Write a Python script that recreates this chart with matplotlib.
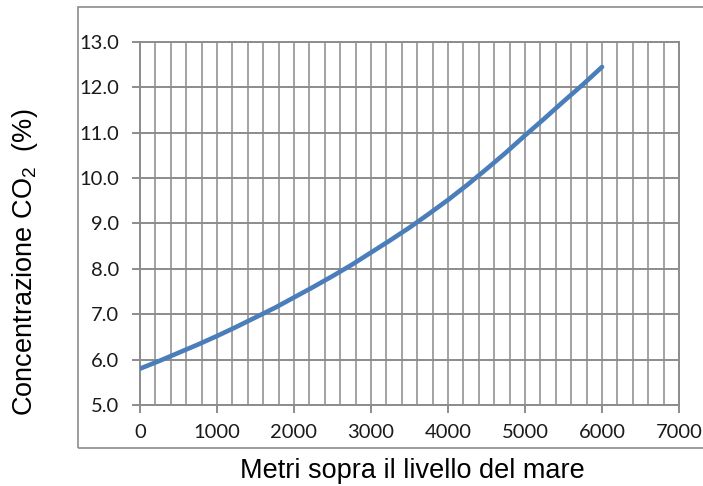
"""CO2 concentration versus altitude"""

import matplotlib
matplotlib.use('Agg')
import matplotlib.pyplot as plt
from matplotlib.patches import Rectangle
from matplotlib.ticker import MultipleLocator, FormatStrFormatter

# altitude above sea level (m) and CO2 concentration (%)
altitude = [0, 250, 500, 750, 1000, 1250, 1500, 1750, 2000, 2250, 2500, 2750, 3000,
            3250, 3500, 3750, 4000, 4250, 4500, 4750, 5000, 5250, 5500, 5750, 6000]
co2_pct = [5.80, 5.97, 6.15, 6.33, 6.52, 6.72, 6.93, 7.14, 7.37, 7.60, 7.84, 8.09, 8.36,
           8.63, 8.91, 9.21, 9.52, 9.85, 10.20, 10.56, 10.94, 11.31, 11.69, 12.06, 12.45]

x_label = 'Metri sopra il livello del mare'
y_label = r'Concentrazione CO$\mathregular{_2}$  (%)'

grid_color = '#a3a3a3'
axis_color = '#8c8c8c'
line_color = '#4a7ebb'

plt.rcParams['font.family'] = ['Liberation Sans', 'DejaVu Sans']

fig = plt.figure(figsize=(7.03, 4.86), dpi=100)
ax = fig.add_axes([0.1991, 0.1667, 0.7668, 0.7469])

# frame around the whole chart area, open on the right
fig.patches.append(Rectangle((0.111, 0.0782), 1.0, 0.9074, transform=fig.transFigure,
                             fill=False, edgecolor=axis_color, linewidth=1.2))

ax.plot(altitude, co2_pct, color=line_color, linewidth=3.3, solid_capstyle='round', zorder=3)

ax.set_xlim(0, 7000)
ax.set_ylim(5.0, 13.0)
ax.xaxis.set_major_locator(MultipleLocator(1000))
ax.xaxis.set_minor_locator(MultipleLocator(200))
ax.yaxis.set_major_locator(MultipleLocator(1.0))
ax.yaxis.set_major_formatter(FormatStrFormatter('%.1f'))

ax.grid(which='major', axis='y', color=axis_color, linewidth=1.4)
ax.grid(which='both', axis='x', color=grid_color, linewidth=1.4)
ax.set_axisbelow(True)

for spine in ax.spines.values():
    spine.set_color(axis_color)
    spine.set_linewidth(1.4)

ax.tick_params(axis='both', which='major', direction='out', length=6, width=1.4,
               color=axis_color, labelsize=14.5, labelcolor='#1a1a1a')
ax.tick_params(axis='y', which='major', pad=9)
ax.tick_params(axis='x', which='major', pad=8)
ax.tick_params(axis='x', which='minor', length=0)
for lbl in ax.get_xticklabels() + ax.get_yticklabels():
    lbl.set_fontfamily(['Lato', 'DejaVu Sans'])

fig.text(0.587, 0.030, x_label, ha='center', va='center', fontsize=19.5)
fig.text(0.035, 0.461, y_label, ha='center', va='center', rotation=90, fontsize=19.5)

fig.savefig('out.png', dpi=100)
